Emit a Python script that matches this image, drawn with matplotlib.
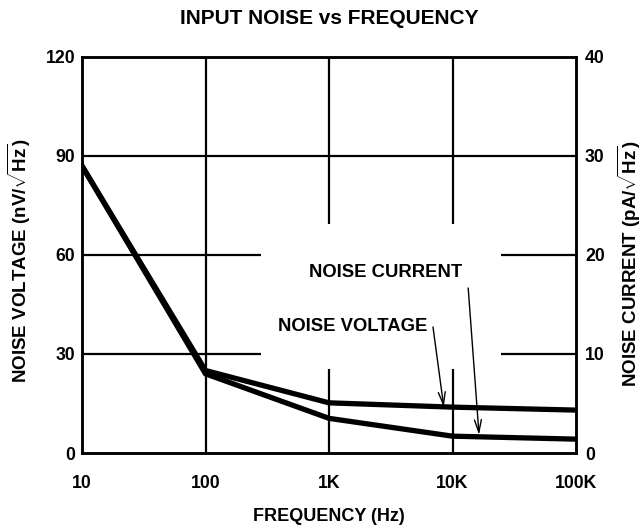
import matplotlib
matplotlib.use("Agg")
import matplotlib.pyplot as plt

plt.rcParams['font.family'] = ['Liberation Sans', 'DejaVu Sans']
plt.rcParams['font.weight'] = 'bold'
plt.rcParams['mathtext.fontset'] = 'custom'
plt.rcParams['mathtext.rm'] = 'Liberation Sans:bold'
plt.rcParams['mathtext.bf'] = 'Liberation Sans:bold'
plt.rcParams['mathtext.it'] = 'Liberation Sans:bold'

# Data
freq_hz = [10, 100, 1000, 10000, 100000]
noise_voltage_nv = [87, 25, 15.2, 13.9, 13.0]
noise_current_pa = [29, 8.0, 3.5, 1.7, 1.4]

x_ticks = [10, 100, 1000, 10000, 100000]
x_ticklabels = ['10', '100', '1K', '10K', '100K']
left_ticks = [0, 30, 60, 90, 120]
right_ticks = [0, 10, 20, 30, 40]

fig = plt.figure(figsize=(6.44, 5.29), dpi=100)
ax = fig.add_axes([82/644, 1-453/529, (576-82)/644, (453-57)/529])
ax.set_xscale('log')
ax.set_xlim(10, 100000)
ax.set_ylim(0, 120)
ax2 = ax.twinx()
ax2.set_ylim(0, 40)

lw_grid = 1.6
# grid lines with gaps behind the labels
gx_lo, gx_hi = 281, 24700
gy_lo, gy_hi = 25.5, 69.5
ax.hlines(90, 10, 100000, color='black', lw=lw_grid, zorder=1)
for yv in (30, 60):
    ax.hlines(yv, 10, gx_lo, color='black', lw=lw_grid, zorder=1)
    ax.hlines(yv, gx_hi, 100000, color='black', lw=lw_grid, zorder=1)
ax.vlines(100, 0, 120, color='black', lw=lw_grid, zorder=1)
for xv in (1000, 10000):
    ax.vlines(xv, 0, gy_lo, color='black', lw=lw_grid, zorder=1)
    ax.vlines(xv, gy_hi, 120, color='black', lw=lw_grid, zorder=1)

ax.plot(freq_hz, noise_voltage_nv, color='black', lw=3.8, solid_joinstyle='miter', zorder=3)
ax2.plot(freq_hz, noise_current_pa, color='black', lw=3.8, solid_joinstyle='miter', zorder=3)

for a in (ax, ax2):
    for s in a.spines.values():
        s.set_linewidth(1.8)

fs_tick = 12.7
ax.set_xticks(x_ticks)
ax.set_xticklabels(x_ticklabels)
ax.xaxis.set_minor_locator(matplotlib.ticker.NullLocator())
ax.set_yticks(left_ticks)
ax2.set_yticks(right_ticks)
ax.tick_params(axis='x', length=0, pad=16, labelsize=fs_tick)
ax.tick_params(axis='y', length=0, pad=5, labelsize=fs_tick)
ax2.tick_params(axis='y', length=0, pad=6.5, labelsize=fs_tick)

fs_lab = 13
ax.set_xlabel('FREQUENCY (Hz)', fontsize=fs_lab, fontweight='bold')
ax.xaxis.set_label_coords(0.5, -(508-453)/396)
ax.set_ylabel(r'NOISE VOLTAGE (nV/$\sqrt{\mathrm{Hz}}$)', fontsize=13.5, fontweight='bold')
ax2.set_ylabel(r'NOISE CURRENT (pA/$\sqrt{\mathrm{Hz}}$)', fontsize=13.5, fontweight='bold')
ax.yaxis.set_label_coords(-(82-33)/494, (453-261)/396)
ax2.yaxis.set_label_coords(1+(616-576)/494, (453-264)/396)

fig.text(329/644, 1-19/529, 'INPUT NOISE vs FREQUENCY', ha='center', va='center',
         fontsize=15, fontweight='bold')

ax.text(2890, 54.8, 'NOISE CURRENT', ha='center', va='center', fontsize=13.3, fontweight='bold')
ax.text(1563, 38.2, 'NOISE VOLTAGE', ha='center', va='center', fontsize=13.3, fontweight='bold')

arrow = dict(arrowstyle='->,head_length=0.9,head_width=0.25', color='black', lw=1.0, shrinkA=0, shrinkB=0)
ax.annotate('', xy=(8500, 13.9), xytext=(6950, 38.2), arrowprops=arrow)
ax.annotate('', xy=(16400, 5.5), xytext=(13400, 50), arrowprops=arrow)

fig.savefig('out.png', dpi=100)
